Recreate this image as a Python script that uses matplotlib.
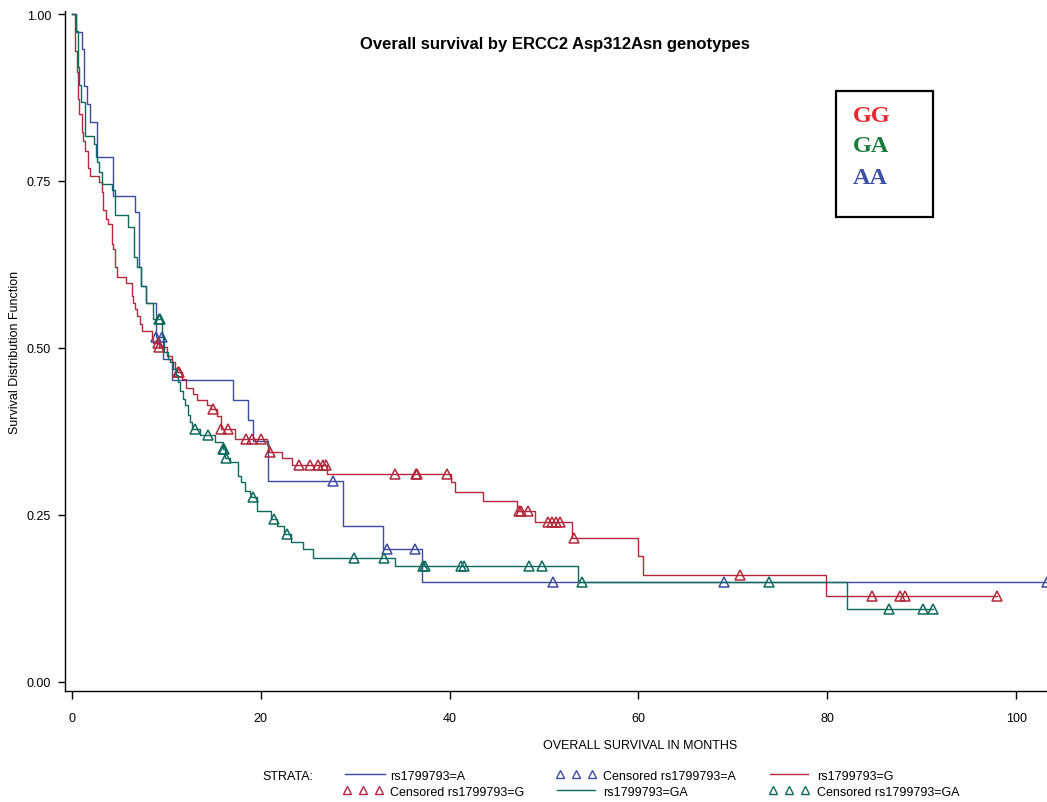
import numpy as np
import matplotlib
matplotlib.use("Agg")
import matplotlib.pyplot as plt
from matplotlib.lines import Line2D
from matplotlib.patches import Rectangle

# ---------------- data (months, survival) ----------------
gg_t = [0, 0.40, 0.53, 0.72, 0.83, 1.11, 1.25, 1.46, 1.75, 1.99, 2.88, 3.20, 3.37, 3.62, 3.89,
        4.25, 4.42, 4.60, 4.78, 5.74, 6.37, 6.54, 6.72, 6.90, 7.25, 7.49, 8.55, 8.66, 9.25,
        10.07, 10.60, 10.95, 11.20, 11.66, 12.12, 12.89, 13.28, 14.31, 14.80, 15.43, 15.82,
        17.30, 20.69, 20.90, 22.30, 23.30, 27.07, 40.16, 40.58, 43.51, 47.11, 49.05, 52.93,
        59.90, 60.50, 79.80]
gg_s = [1.0, 0.945, 0.913, 0.873, 0.850, 0.823, 0.810, 0.795, 0.770, 0.758, 0.748, 0.734, 0.706, 0.693, 0.686,
        0.656, 0.648, 0.621, 0.606, 0.597, 0.578, 0.568, 0.558, 0.548, 0.536, 0.526, 0.513, 0.508, 0.501,
        0.488, 0.479, 0.469, 0.464, 0.454, 0.440, 0.431, 0.422, 0.415, 0.408, 0.398, 0.379,
        0.364, 0.355, 0.345, 0.336, 0.325, 0.312, 0.299, 0.285, 0.271, 0.256, 0.239, 0.215,
        0.188, 0.160, 0.128]
gg_end = 97.97
gg_cens = [9.15, 9.30, 11.25, 11.40, 15.00, 15.85, 16.60, 18.44, 19.14, 20.06, 21.00, 24.10,
           25.24, 26.10, 26.60, 26.90, 34.26, 36.50, 36.55, 39.77, 47.35, 47.60, 48.34, 50.45,
           50.80, 51.24, 51.69, 53.17, 70.74, 84.74, 87.67, 88.20, 97.97]

ga_t = [0, 0.44, 0.72, 0.83, 1.03, 1.43, 2.33, 2.54, 2.73, 2.86, 3.20, 4.25, 4.60, 5.95, 6.65,
        6.93, 7.35, 7.88, 8.66, 9.55, 9.79, 10.18, 10.42, 10.77, 11.06, 11.30, 11.48, 11.77,
        12.01, 12.36, 12.54, 12.72, 13.60, 15.19, 16.00, 16.20, 16.77, 17.59, 17.90, 18.36,
        18.89, 19.00, 19.60, 21.08, 21.78, 22.50, 23.23, 24.53, 25.59, 34.23, 53.63, 82.03]
ga_s = [1.0, 0.974, 0.920, 0.893, 0.868, 0.818, 0.805, 0.786, 0.778, 0.763, 0.746, 0.736, 0.699, 0.681, 0.636,
        0.621, 0.593, 0.567, 0.543, 0.518, 0.494, 0.484, 0.479, 0.469, 0.459, 0.449, 0.436, 0.424,
        0.414, 0.399, 0.389, 0.379, 0.369, 0.359, 0.349, 0.336, 0.329, 0.309, 0.299, 0.286,
        0.281, 0.277, 0.256, 0.244, 0.234, 0.222, 0.210, 0.199, 0.186, 0.174, 0.149, 0.110]
ga_end = 91.13
ga_cens = [9.30, 9.40, 13.07, 14.40, 16.05, 16.10, 16.40, 19.17, 21.43, 22.84, 29.89, 33.07,
           37.23, 37.40, 41.20, 41.57, 48.41, 49.76, 54.02, 73.84, 86.54, 90.07, 91.13]

aa_t = [0, 0.44, 1.08, 1.27, 1.61, 1.96, 2.67, 4.39, 6.72, 7.14, 7.40, 7.88, 8.90, 9.70,
        10.65, 17.12, 18.70, 19.24, 20.74, 28.68, 33.00, 37.10]
aa_s = [1.0, 0.973, 0.948, 0.892, 0.865, 0.838, 0.786, 0.728, 0.704, 0.621, 0.593, 0.567, 0.516, 0.484,
        0.4525, 0.422, 0.392, 0.3615, 0.301, 0.234, 0.199, 0.149]
aa_end = 103.2
aa_cens = [8.95, 9.60, 27.70, 33.40, 36.40, 51.00, 69.10, 103.20]

x_ticks = [0, 20, 40, 60, 80, 100]
y_ticks = [0.0, 0.25, 0.5, 0.75, 1.0]
y_ticklabels = ["0.00", "0.25", "0.50", "0.75", "1.00"]

C_AA = "#3c4aa2"
C_GG = "#b3283a"
C_GA = "#0f6a5c"

plt.rcParams['font.family'] = ['Liberation Sans', 'DejaVu Sans']

W, H = 1047, 803
fig = plt.figure(figsize=(W / 100, H / 100), dpi=100)
ax = fig.add_axes([65 / W, 111 / H, (W - 65) / W, (692 - 12) / H])


def draw(t, s, end, cens, color):
    t = np.asarray(t, float)
    s = np.asarray(s, float)
    ax.step(np.append(t, end), np.append(s, s[-1]), where='post', color=color, lw=1.0)
    c = np.asarray(cens, float)
    idx = np.searchsorted(t, c, side='right') - 1
    ax.plot(c, s[idx], linestyle='none', marker='^', markersize=7, mfc='none',
            mec=color, mew=1.1, clip_on=True)


draw(aa_t, aa_s, aa_end, aa_cens, C_AA)
draw(gg_t, gg_s, gg_end, gg_cens, C_GG)
draw(ga_t, ga_s, ga_end, ga_cens, C_GA)

ax.set_xlim(-0.69, 103.23)
ax.set_ylim(-0.0135, 1.0045)
ax.set_xticks(x_ticks)
ax.set_yticks(y_ticks)
ax.set_yticklabels(y_ticklabels)
ax.spines['top'].set_visible(False)
ax.spines['right'].set_visible(False)
ax.spines['left'].set_linewidth(1.0)
ax.spines['bottom'].set_linewidth(1.0)
ax.tick_params(axis='x', length=6, width=1.0, labelsize=9, pad=9)
ax.tick_params(axis='y', length=5, width=1.0, labelsize=9, pad=5)

# titles / labels
fig.text(555 / W, 1 - 45 / H, "Overall survival by ERCC2 Asp312Asn genotypes",
         ha='center', va='center', fontsize=12, fontweight='bold')
fig.text(640 / W, 1 - 746 / H, "OVERALL SURVIVAL IN MONTHS", ha='center', va='center', fontsize=9)
fig.text(15 / W, 1 - 352 / H, "Survival Distribution Function", ha='center', va='center',
         rotation=90, fontsize=9)

# genotype box
fig.patches.append(Rectangle((836 / W, 1 - 218 / H), 97 / W, 126 / H, transform=fig.transFigure,
                             fill=False, edgecolor='black', lw=1.6))
for txt, yy, col in [("GG", 116, "#e8282e"), ("GA", 147, "#1a7a3c"), ("AA", 178, "#3d4fa6")]:
    fig.text(853 / W, 1 - yy / H, txt, ha='left', va='center', fontsize=17.5, fontweight='bold',
             color=col, family=['Liberation Serif', 'DejaVu Serif'])

# legend
fig.text(262 / W, 1 - 777 / H, "STRATA:", ha='left', va='center', fontsize=9)


def leg_line(x0, x1, y, color):
    fig.add_artist(Line2D([x0 / W, x1 / W], [1 - y / H, 1 - y / H], color=color, lw=1.0,
                          transform=fig.transFigure))


def leg_tri(x0, y, color):
    xs = [(x0 + k * 16) / W for k in range(3)]
    fig.add_artist(Line2D(xs, [1 - y / H] * 3, linestyle='none', marker='^', markersize=5.5,
                          mfc='none', mec=color, mew=1.0, transform=fig.transFigure))


leg_line(345, 385, 775, C_AA)
fig.text(390 / W, 1 - 777 / H, "rs1799793=A", ha='left', va='center', fontsize=9)
leg_tri(560, 775, C_AA)
fig.text(603 / W, 1 - 777 / H, "Censored rs1799793=A", ha='left', va='center', fontsize=9)
leg_line(770, 808, 775, C_GG)
fig.text(817 / W, 1 - 777 / H, "rs1799793=G", ha='left', va='center', fontsize=9)

leg_tri(347, 791, C_GG)
fig.text(390 / W, 1 - 793 / H, "Censored rs1799793=G", ha='left', va='center', fontsize=9)
leg_line(557, 595, 791, C_GA)
fig.text(603 / W, 1 - 793 / H, "rs1799793=GA", ha='left', va='center', fontsize=9)
leg_tri(773, 791, C_GA)
fig.text(817 / W, 1 - 793 / H, "Censored rs1799793=GA", ha='left', va='center', fontsize=9)

fig.savefig("out.png", dpi=100)
